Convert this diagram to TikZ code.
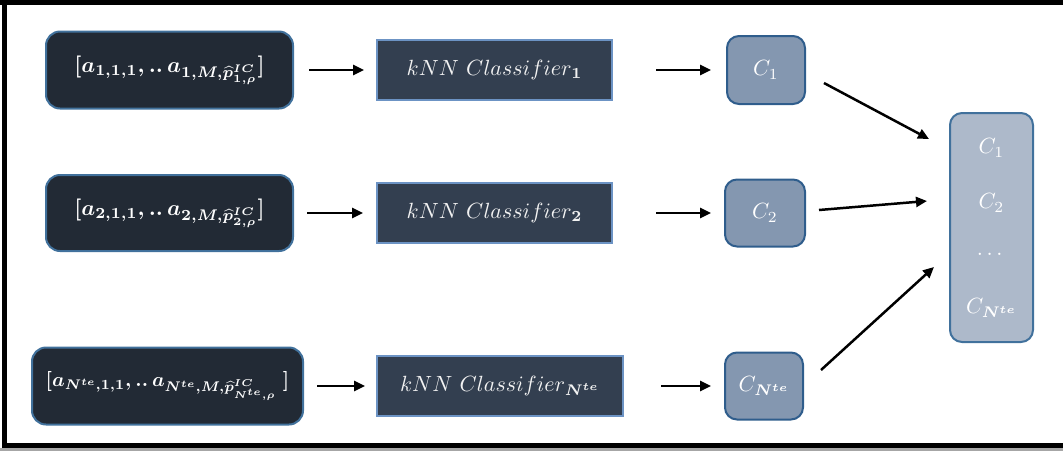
\documentclass[tikz,border=0pt]{standalone}
\usepackage{graphicx}
\usepackage{amsmath,bm}
\usetikzlibrary{arrows.meta}
\definecolor{inFill}{HTML}{222A35}
\definecolor{inLine}{HTML}{41719C}
\definecolor{clsFill}{HTML}{333F50}
\definecolor{clsLine}{HTML}{6C93C4}
\definecolor{cFill}{HTML}{8497B0}
\definecolor{cLine}{HTML}{2F5D8C}
\definecolor{allFill}{HTML}{ADB9CA}
\definecolor{allLine}{HTML}{41719C}
\definecolor{txtLight}{HTML}{F2F2F2}
% scaled math at the sizes used in the boxes
\newcommand{\vecTxt}[2][2.2]{\scalebox{#1}{\boldmath$#2$}}
\newcommand{\clsTxt}[1]{\scalebox{2.2}{$#1$}}
\newcommand{\cTxt}[1]{\scalebox{2.2}{$#1$}}
\begin{document}
\begin{tikzpicture}[x=1pt,y=-1pt,
  inbox/.style={draw=inLine,line width=2pt,fill=inFill,rounded corners=14pt,
    inner sep=0pt,text=white},
  clsbox/.style={draw=clsLine,line width=2pt,fill=clsFill,inner sep=0pt,
    minimum height=60pt,text=txtLight},
  cbox/.style={draw=cLine,line width=2pt,fill=cFill,rounded corners=12pt,
    inner sep=0pt,text=white},
  allbox/.style={draw=allLine,line width=2pt,fill=allFill,rounded corners=12pt,inner sep=0pt},
  alltxt/.style={text=white,inner sep=0pt},
  arr/.style={line width=2.5pt,-{Triangle[length=11pt,width=10pt]}}]
\useasboundingbox (0,0) rectangle (1063,451);
% outer frame bands
\fill[black] (0,0) rectangle (1063,5);
\fill[black] (2,0) rectangle (7,448);
\fill[black] (2,443) rectangle (1063,448);
\fill[gray!70] (0,448) rectangle (1063,451);

% feature vectors
\node[inbox,minimum width=247pt,minimum height=77pt] (in1) at (169.5,70)
  {\vecTxt{[a_{1,1,1},..\,a_{1,M,\widehat{p}^{IC}_{1,\rho}}]}};
\node[inbox,minimum width=247pt,minimum height=76pt] (in2) at (169.5,213)
  {\vecTxt{[a_{2,1,1},..\,a_{2,M,\widehat{p}^{IC}_{2,\rho}}]}};
\node[inbox,minimum width=271pt,minimum height=77pt] (in3) at (167.5,386)
  {\vecTxt[2.0]{[a_{N^{te},1,1},..\,a_{N^{te},M,\widehat{p}^{IC}_{N^{te},\rho}}\;]}};

% classifiers
\node[clsbox,minimum width=235pt] (cls1) at (494.5,70)
  {\clsTxt{kNN\ Classifier_{\mathbf{1}}}};
\node[clsbox,minimum width=235pt] (cls2) at (494.5,213)
  {\clsTxt{kNN\ Classifier_{\mathbf{2}}}};
\node[clsbox,minimum width=246pt] (cls3) at (500,386)
  {\clsTxt{kNN\ Classifier_{\bm{N^{te}}}}};

% predictions
\node[cbox,minimum width=78pt,minimum height=68pt] (c1) at (766,70) {\cTxt{C_1}};
\node[cbox,minimum width=80pt,minimum height=67pt] (c2) at (765,213) {\cTxt{C_2}};
\node[cbox,minimum width=78pt,minimum height=67pt] (c3) at (764,386) {\cTxt{C_{\bm{N^{te}}}}};

% collected predictions
\node[allbox,minimum width=83pt,minimum height=229pt] (all) at (991.5,227.5) {};
\node[alltxt] (a1) at (991.5,148) {\cTxt{C_1}};
\node[alltxt] (a2) at (991.5,203) {\cTxt{C_2}};
\node[alltxt] (a3) at (991.5,254) {\cTxt{\dots}};
\node[alltxt] (a4) at (991.5,308) {\cTxt{C_{\bm{N^{te}}}}};

% connectors
\draw[arr] ([xshift=15pt]in1.east) -- ([xshift=-12pt]cls1.west);
\draw[arr] ([xshift=13pt]in2.east) -- ([xshift=-13pt]cls2.west);
\draw[arr] ([xshift=13pt]in3.east) -- ([xshift=-11pt]cls3.west);
\draw[arr] ([xshift=43pt]cls1.east) -- ([xshift=-15pt]c1.west);
\draw[arr] ([xshift=43pt]cls2.east) -- ([xshift=-13pt]c2.west);
\draw[arr] ([xshift=37pt]cls3.east) -- ([xshift=-13pt]c3.west);
\draw[arr] ([shift={(18,13)}]c1.east) -- ([shift={(-20,-88.5)}]all.west);
\draw[arr] ([shift={(13,-3)}]c2.east) -- ([shift={(-22,-26.5)}]all.west);
\draw[arr] ([shift={(17,-16)}]c3.east) -- ([shift={(-15,39.5)}]all.west);
\end{tikzpicture}
\end{document}
